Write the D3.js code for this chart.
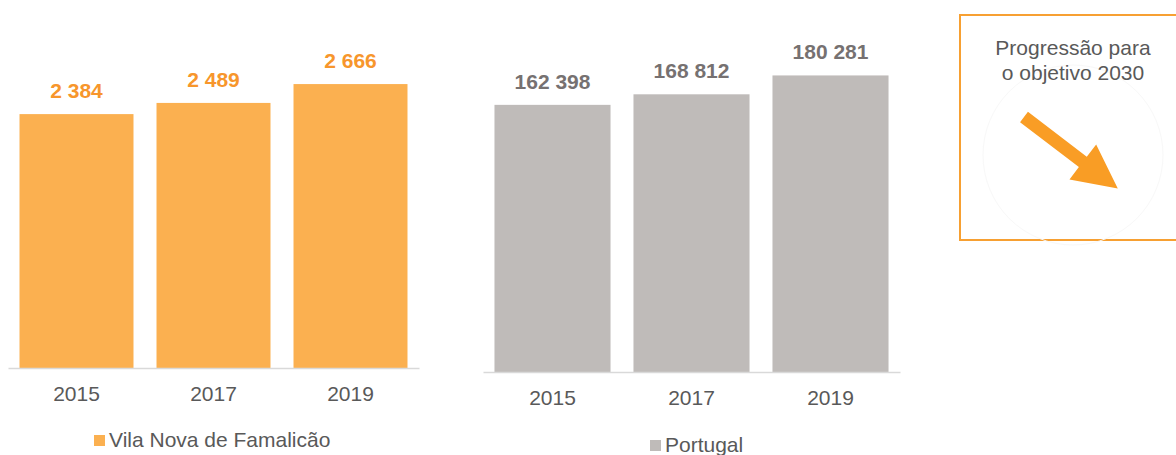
<!DOCTYPE html>
<html>
<head>
<meta charset="utf-8">
<script src="https://cdn.jsdelivr.net/npm/d3@7"></script>
<style>
  html, body { margin: 0; padding: 0; background: #ffffff; }
  svg { display: block; font-family: "Liberation Sans", Arial, sans-serif; }
</style>
</head>
<body>
<svg id="chart" width="1176" height="455"></svg>
<script>
// Years shown on both panels
const years = ["2015", "2017", "2019"];
// Vila Nova de Famalicão
const famalicaoValues = [2384, 2489, 2666];
// Portugal
const portugalValues = [162398, 168812, 180281];
const legendFamalicao = "Vila Nova de Famalicão";
const legendPortugal = "Portugal";
const boxTitle = ["Progressão para", "o objetivo 2030"];

const svg = d3.select("#chart");
const fmt = v => d3.format(",")(v).replace(/,/g, " ");

function panel(opts) {
  const x = d3.scaleBand()
    .domain(years)
    .range([opts.x0, opts.x1])
    .paddingInner(opts.pad)
    .paddingOuter(opts.pad / 2);
  const y = d3.scaleLinear()
    .domain([0, opts.max])
    .range([opts.base, opts.top]);
  const g = svg.append("g");

  g.selectAll("rect.bar")
    .data(opts.values)
    .join("rect")
    .attr("class", "bar")
    .attr("x", (d, i) => x(years[i]))
    .attr("width", x.bandwidth())
    .attr("y", d => y(d))
    .attr("height", d => y(0) - y(d))
    .attr("fill", opts.barColor);

  // baseline axis
  const axis = g.append("g")
    .attr("transform", `translate(0,${y(0)})`)
    .call(d3.axisBottom(x).tickSize(0).tickPadding(opts.tickPad));
  axis.select(".domain").attr("stroke", "#d9d9d9").attr("stroke-width", 1.5);
  axis.selectAll("text")
    .attr("font-size", 21)
    .attr("fill", "#595959")
    .attr("font-family", "Liberation Sans, Arial, sans-serif");

  g.selectAll("text.val")
    .data(opts.values)
    .join("text")
    .attr("class", "val")
    .attr("x", (d, i) => x(years[i]) + x.bandwidth() / 2)
    .attr("y", d => y(d) - 16)
    .attr("text-anchor", "middle")
    .attr("font-size", 21)
    .attr("font-weight", "bold")
    .attr("fill", opts.labelColor)
    .text(d => fmt(d));

  // legend
  const lg = g.append("g");
  lg.append("rect")
    .attr("x", opts.legX).attr("y", opts.legY - 12)
    .attr("width", 11).attr("height", 11)
    .attr("fill", opts.barColor);
  lg.append("text")
    .attr("x", opts.legX + 15).attr("y", opts.legY)
    .attr("font-size", 21)
    .attr("fill", "#595959")
    .text(opts.legend);
}

panel({
  values: famalicaoValues, x0: 8, x1: 419, pad: 0.168,
  max: 3000, base: 368, top: 48.5, tickPad: 18,
  barColor: "#fbb050", labelColor: "#f7962c",
  legend: legendFamalicao, legX: 94, legY: 447
});

panel({
  values: portugalValues, x0: 483, x1: 900, pad: 0.165,
  max: 200000, base: 372, top: 43, tickPad: 18,
  barColor: "#bfbbb9", labelColor: "#767171",
  legend: legendPortugal, legX: 650, legY: 452
});

// Progress box
const box = svg.append("g");
box.append("rect")
  .attr("x", 960).attr("y", 15)
  .attr("width", 240).attr("height", 225)
  .attr("fill", "none")
  .attr("stroke", "#f7a032")
  .attr("stroke-width", 2);

box.append("circle")
  .attr("cx", 1073).attr("cy", 155).attr("r", 90)
  .attr("fill", "none")
  .attr("stroke", "#f8f8f8")
  .attr("stroke-width", 1);

box.selectAll("text.title")
  .data(boxTitle)
  .join("text")
  .attr("class", "title")
  .attr("x", 1073)
  .attr("y", (d, i) => 55 + i * 25)
  .attr("text-anchor", "middle")
  .attr("font-size", 21)
  .attr("fill", "#595959")
  .text(d => d);

// downward arrow (trend indicator), drawn along its own axis then rotated
const len = 118, shaftW = 13, headW = 44, headL = 44;
const arrowPts = [
  [0, -shaftW / 2], [len - headL, -shaftW / 2], [len - headL, -headW / 2],
  [len, 0],
  [len - headL, headW / 2], [len - headL, shaftW / 2], [0, shaftW / 2]
];
const angle = Math.atan2(71, 93) * 180 / Math.PI;
box.append("polygon")
  .attr("points", arrowPts.map(p => p.join(",")).join(" "))
  .attr("transform", `translate(1024,117) rotate(${angle})`)
  .attr("fill", "#f99d25");
</script>
</body>
</html>
